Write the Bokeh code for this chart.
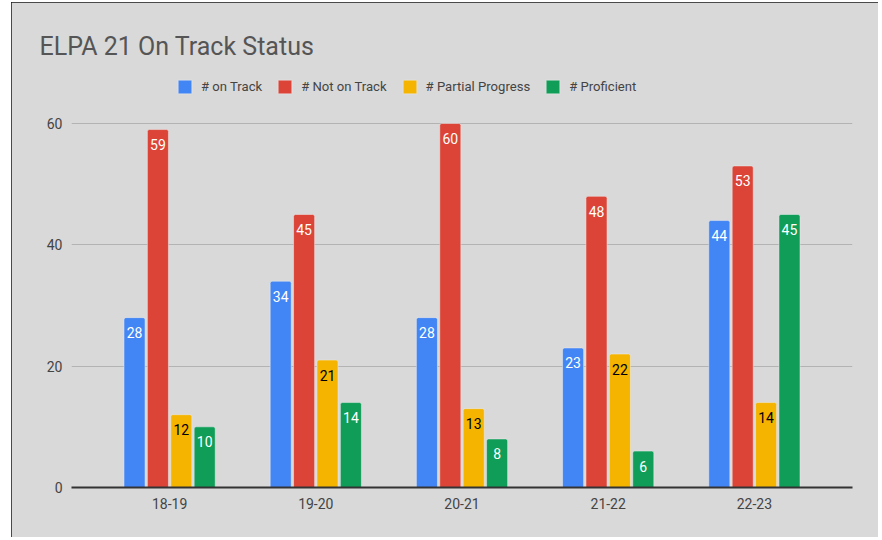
from bokeh.plotting import figure
from bokeh.models import (FactorRange, Range1d, FixedTicker, Legend, LegendItem,
                          ColumnDataSource, LabelSet)
from bokeh.core.properties import value
from bokeh.transform import dodge
from bokeh.embed import file_html
from bokeh.resources import INLINE

years = ["18-19", "19-20", "20-21", "21-22", "22-23"]
on_track = [28, 34, 28, 23, 44]
not_on_track = [59, 45, 60, 48, 53]
partial = [12, 21, 13, 22, 14]
proficient = [10, 14, 8, 6, 45]

series_names = ["# on Track", "# Not on Track", "# Partial Progress", "# Proficient"]
colors = ["#4285F4", "#DB4437", "#F4B400", "#0F9D58"]
label_colors = ["white", "white", "black", "white"]
offsets = [-0.24, -0.08, 0.08, 0.24]

FONT = "Roboto"
BG = "#d9d9d9"

# layout (pixels inside the figure)
FIG_W, FIG_H = 867, 535
FR_LEFT, FR_RIGHT, FR_TOP, FR_BOTTOM = 60, 841, 63, 485
GRID_TOP = 121  # pixel row of the 60 gridline
y_end = 60 * (FR_BOTTOM - FR_TOP) / (FR_BOTTOM - GRID_TOP)

p = figure(x_range=FactorRange(*years, range_padding=0.171, range_padding_units="absolute"),
           y_range=Range1d(0, y_end), width=FIG_W, height=FIG_H,
           output_backend="svg", toolbar_location=None,
           title="ELPA 21 On Track Status")
p.margin = (2, 0, 0, 11)
p.styles = {"outline": "2px solid #1a1a1a", "outline-offset": "-2px",
            "background-color": BG}

p.background_fill_color = None
p.border_fill_color = BG
p.outline_line_color = None
p.min_border_left = FR_LEFT
p.min_border_right = FIG_W - FR_RIGHT
p.min_border_bottom = FIG_H - FR_BOTTOM
p.min_border_top = FR_TOP

p.title.text_font = FONT
p.title.text_font_size = "25px"
p.title.text_font_style = "normal"
p.title.text_color = "#555555"
p.title.align = "left"
p.title.offset = -32

src = ColumnDataSource(dict(years=years, on_track=on_track, not_on_track=not_on_track,
                            partial=partial, proficient=proficient))
keys = ["on_track", "not_on_track", "partial", "proficient"]

items = []
for key, name, col, lc, off in zip(keys, series_names, colors, label_colors, offsets):
    r = p.vbar(x=dodge("years", off, range=p.x_range), top=key, width=0.144, source=src,
               fill_color=col, line_color="#f0f0f0", line_alpha=0.5, line_width=1,
               border_radius=(2, 2, 0, 0))
    items.append(LegendItem(label=name, renderers=[r]))
    labels = LabelSet(x=dodge("years", off, range=p.x_range), y=key, text=key, source=src,
                      text_align="center", text_baseline="middle", y_offset=-15,
                      text_font=value(FONT), text_font_size=value("14px"), text_color=lc)
    p.add_layout(labels)

legend = Legend(items=items, orientation="horizontal", location=(105, 392),
                glyph_width=17, glyph_height=17, label_standoff=8, spacing=14,
                label_text_font=FONT, label_text_font_size="13.1px", label_text_color="#444444",
                background_fill_alpha=0, border_line_alpha=0, padding=0, margin=0)
p.add_layout(legend)

p.yaxis.ticker = FixedTicker(ticks=[0, 20, 40, 60])
p.yaxis.axis_line_color = None
p.yaxis.major_tick_line_color = None
p.yaxis.minor_tick_line_color = None
p.yaxis.major_tick_out = 0
p.yaxis.major_tick_in = 0
p.yaxis.major_label_text_font = FONT
p.yaxis.major_label_text_font_size = "14px"
p.yaxis.major_label_text_color = "#444444"
p.yaxis.major_label_standoff = 9

p.xaxis.axis_line_color = "#333333"
p.xaxis.axis_line_width = 2
p.xaxis.major_tick_line_color = None
p.xaxis.minor_tick_line_color = None
p.xaxis.major_tick_out = 0
p.xaxis.major_tick_in = 0
p.xaxis.major_label_text_font = FONT
p.xaxis.major_label_text_font_size = "14px"
p.xaxis.major_label_text_color = "#444444"
p.xaxis.major_label_standoff = 10

p.xgrid.grid_line_color = None
p.ygrid.grid_line_color = "#b3b3b3"
p.ygrid.grid_line_width = 1

open("out.html", "w").write(file_html(p, INLINE))
